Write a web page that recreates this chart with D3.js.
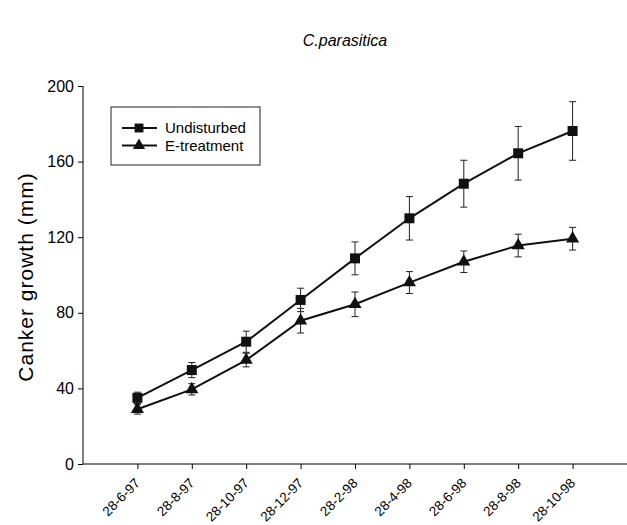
<!DOCTYPE html>
<html>
<head>
<meta charset="utf-8">
<script src="https://cdn.jsdelivr.net/npm/d3@7"></script>
<style>
  body { margin: 0; background: #fff; }
  svg { font-family: "Liberation Sans", Arial, sans-serif; }
</style>
</head>
<body>
<svg class="chart" width="627" height="525"></svg>
<script>
// sampling dates (tick labels)
const dates = ["28-6-97", "28-8-97", "28-10-97", "28-12-97", "28-2-98", "28-4-98", "28-6-98", "28-8-98", "28-10-98"];

// canker growth (mm)
const undisturbed = [35, 49.7, 64.7, 86.8, 108.8, 130, 148.3, 164.4, 176.2];
const undisturbedErr = [3, 4, 5.6, 6.2, 8.7, 11.5, 12.4, 14.2, 15.5];
const eTreatment = [29, 39.5, 55, 75.8, 84.5, 96, 107, 115.6, 119.2];
const eTreatmentErr = [2.6, 3, 3.6, 6.5, 6.5, 5.8, 5.7, 6, 6];

const yTicks = [0, 40, 80, 120, 160, 200];

const svg = d3.select(".chart");

const plotLeft = 83, plotRight = 627, plotTop = 86, plotBottom = 464;

// x is the sample index; axis runs one step either side of the data
const x = d3.scaleLinear().domain([-1, 9]).range([plotLeft, plotRight]);
const y = d3.scaleLinear().domain([0, 200]).range([plotBottom, plotTop]);

// title
svg.append("text")
    .attr("x", 345)
    .attr("y", 46)
    .attr("text-anchor", "middle")
    .style("font-size", "16px")
    .style("font-style", "italic")
    .text("C.parasitica");

// y axis
const yAxis = svg.append("g")
    .attr("transform", `translate(${plotLeft},0)`)
    .call(d3.axisLeft(y).tickValues(yTicks).tickSize(5).tickPadding(4).tickFormat(d3.format("d")));
yAxis.selectAll("text").style("font-size", "16px").style("fill", "#000");
yAxis.select(".domain").attr("d", `M0,${plotBottom}V${plotTop}`);

// x axis
const xAxis = svg.append("g")
    .attr("transform", `translate(0,${plotBottom})`)
    .call(d3.axisBottom(x).tickValues(d3.range(dates.length)).tickSize(5).tickFormat(i => dates[i]));
xAxis.select(".domain").attr("d", `M${plotLeft},0H${plotRight}`);
xAxis.selectAll("text")
    .style("font-size", "13.5px")
    .style("fill", "#000")
    .attr("text-anchor", "end")
    .attr("x", 0)
    .attr("y", 0)
    .attr("dy", 0)
    .attr("transform", "translate(3,20) rotate(-45)");

// y axis title
svg.append("text")
    .attr("transform", "translate(33,277) rotate(-90)")
    .attr("text-anchor", "middle")
    .style("font-size", "21px")
    .style("letter-spacing", "1px")
    .text("Canker growth (mm)");

const line = d3.line()
    .x((d, i) => x(i))
    .y(d => y(d));

function drawSeries(values, errs, shape) {
    const g = svg.append("g");

    // error bars
    values.forEach((v, i) => {
        const cx = x(i);
        const y1 = y(v + errs[i]), y2 = y(v - errs[i]);
        g.append("line")
            .attr("x1", cx).attr("x2", cx)
            .attr("y1", y1).attr("y2", y2)
            .style("stroke", "#222").style("stroke-width", 1);
        [y1, y2].forEach(yy => {
            g.append("line")
                .attr("x1", cx - 3.5).attr("x2", cx + 3.5)
                .attr("y1", yy).attr("y2", yy)
                .style("stroke", "#222").style("stroke-width", 1);
        });
    });

    g.append("path")
        .datum(values)
        .attr("d", line)
        .style("fill", "none")
        .style("stroke", "#111")
        .style("stroke-width", 2);

    g.selectAll(".pt")
        .data(values)
        .enter()
        .append("path")
        .attr("transform", (d, i) => `translate(${x(i)},${y(d)})`)
        .attr("d", d3.symbol().type(shape).size(shape === d3.symbolSquare ? 100 : 75))
        .style("fill", "#111");
}

drawSeries(undisturbed, undisturbedErr, d3.symbolSquare);
drawSeries(eTreatment, eTreatmentErr, d3.symbolTriangle);

// legend
const legend = svg.append("g");
legend.append("rect")
    .attr("x", 111).attr("y", 107)
    .attr("width", 149).attr("height", 58)
    .style("fill", "#fff")
    .style("stroke", "#222")
    .style("stroke-width", 1);

const legendItems = [
    { name: "Undisturbed", shape: d3.symbolSquare, size: 80 },
    { name: "E-treatment", shape: d3.symbolTriangle, size: 65 }
];
legendItems.forEach((item, i) => {
    const ly = 128 + i * 17.5;
    legend.append("line")
        .attr("x1", 122).attr("x2", 157)
        .attr("y1", ly).attr("y2", ly)
        .style("stroke", "#111").style("stroke-width", 2);
    legend.append("path")
        .attr("transform", `translate(139,${ly})`)
        .attr("d", d3.symbol().type(item.shape).size(item.size))
        .style("fill", "#111");
    legend.append("text")
        .attr("x", 165)
        .attr("y", ly)
        .attr("dy", "0.35em")
        .style("font-size", "15px")
        .text(item.name);
});
</script>
</body>
</html>
